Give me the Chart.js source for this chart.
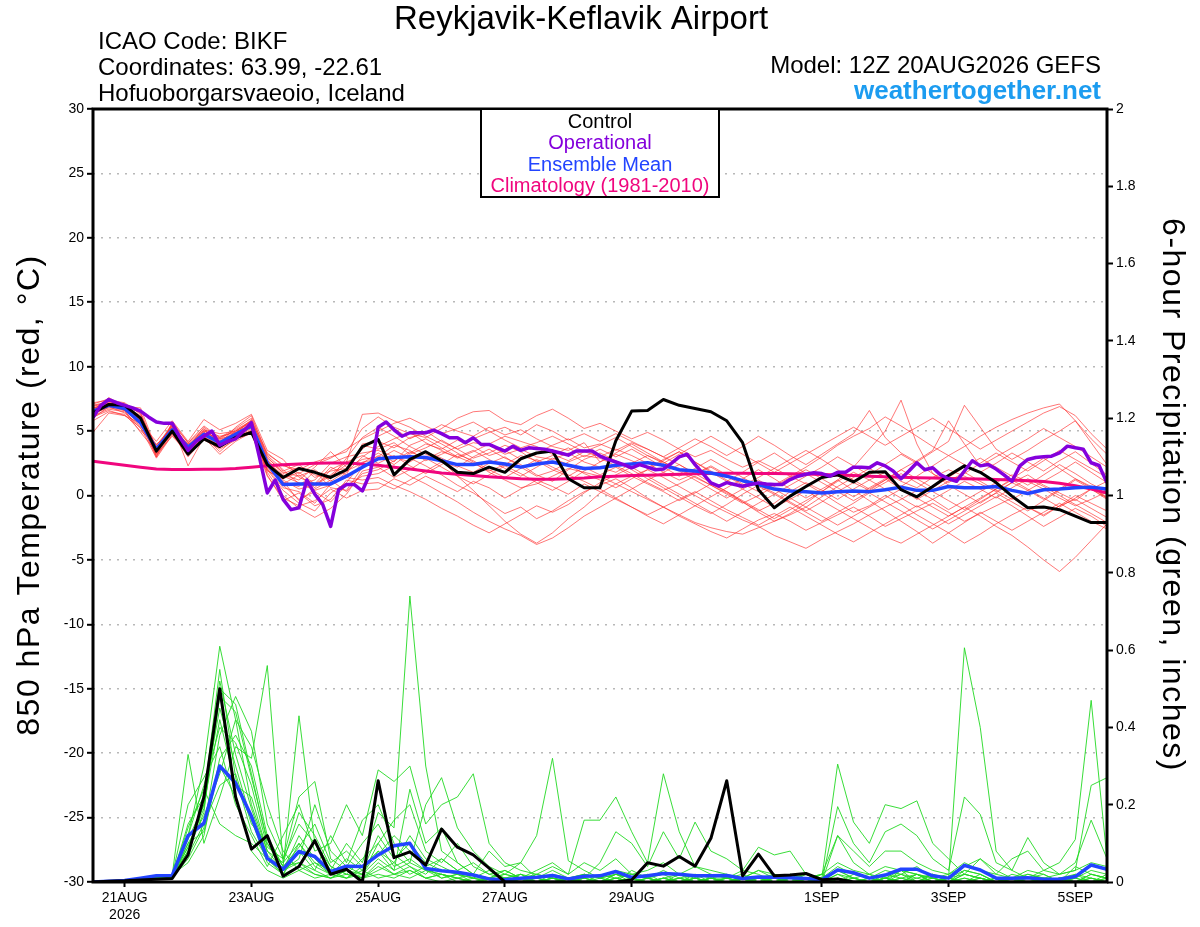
<!DOCTYPE html>
<html>
<head>
<meta charset="utf-8">
<title>Reykjavik-Keflavik Airport GEFS</title>
<script src="https://cdn.jsdelivr.net/npm/chart.js@4.4.1/dist/chart.umd.min.js"></script>
<style>
  html, body { margin: 0; padding: 0; background: #fff; }
  #wrap { width: 1200px; height: 927px; }
</style>
</head>
<body>
<div id="wrap"><canvas id="meteogram" width="1200" height="927"></canvas></div>
<script>
// 6-hourly steps, step 0 = 12Z 20AUG2026, step 64 = 12Z 05SEP2026
const tickSteps = [2, 10, 18, 26, 34, 46, 54, 62];
const tickLabels = [['21AUG', '2026'], '23AUG', '25AUG', '27AUG', '29AUG', '1SEP', '3SEP', '5SEP'];

// 850 hPa temperature (C), 6-hourly
const controlTemp = [6.4,7.07,7.0,6.0,3.44,5.0,3.2,4.4,3.8,4.5,4.9,
  2.4,1.4,2.1,1.8,1.4,2.0,3.8,
  4.35,1.6,2.8,3.4,2.7,1.8,1.7,2.2,1.8,2.85,3.3,3.45,1.3,0.6,
  0.6,4.25,6.55,6.6,7.45,7.0,6.75,6.5,5.8,4.1,0.45,-0.95,-0.05,0.7,1.4,1.6,1.05,1.8,1.85,0.45,-0.1,0.7,1.55,2.3,1.8,1.0,-0.05,-0.95,-0.9,-1.1,-1.6,-2.1,-2.1];
// operational run is 3-hourly (half steps)
const operTemp3h = [6.05,7.0,7.45,7.2,7.0,6.8,6.55,6.1,5.7,5.6,
  5.6,4.5,3.5,4.2,4.6,5.0,3.9,4.2,4.4,5.0,
  5.65,3.0,0.2,1.2,-0.3,-1.1,-0.95,1.2,0.1,-0.7,
  -2.4,0.45,0.85,0.85,0.35,1.76,5.3,5.7,5.1,4.6,
  4.87,4.87,4.87,5.07,4.8,4.48,4.48,4.1,4.48,3.96,
  3.96,3.7,3.45,3.83,3.5,3.7,3.65,3.6,3.45,3.3,
  3.13,3.45,3.45,3.45,3.06,2.8,2.6,2.4,2.15,2.4,
  2.2,2.0,2.05,2.5,3.0,3.2,2.4,1.7,0.98,0.72,
  1.0,0.85,0.72,0.85,0.98,0.9,0.85,0.85,1.24,1.5,
  1.65,1.76,1.7,1.5,1.8,1.8,2.2,2.2,2.15,2.54,
  2.3,1.9,1.3,1.9,2.54,2.0,2.15,1.6,1.3,1.1,
  1.9,2.7,2.3,2.4,2.05,1.6,1.1,2.3,2.8,2.95,
  3.0,3.05,3.3,3.83,3.7,3.6,2.54,2.33,0.98];
const meanTemp = [6.55,7.0,6.75,5.65,3.6,5.1,3.75,4.75,4.1,4.75,5.4,
  2.5,0.85,0.9,0.9,0.9,1.5,2.2,
  2.85,2.95,3.0,2.95,2.7,2.4,2.4,2.6,2.45,2.2,2.45,2.6,2.35,2.1,
  2.15,2.35,2.45,2.55,2.35,2.0,1.9,1.75,1.5,1.15,0.85,0.5,0.35,0.3,0.2,0.3,0.35,0.3,0.45,0.65,0.4,0.4,0.7,0.6,0.6,0.7,0.4,0.15,0.45,0.5,0.6,0.65,0.5];
const climTemp = [2.65,2.5,2.35,2.2,2.05,2.02,2.02,2.03,2.04,2.1,
  2.2,2.3,2.38,2.45,2.5,2.53,2.52,2.45,2.35,2.2,
  2.05,1.9,1.75,1.65,1.55,1.45,1.38,1.3,1.26,1.26,
  1.3,1.35,1.45,1.5,1.55,1.58,1.62,1.65,1.68,1.7,
  1.72,1.72,1.71,1.7,1.68,1.66,1.63,1.6,1.55,1.5,
  1.46,1.42,1.38,1.35,1.32,1.3,1.28,1.25,1.2,1.15,
  1.08,0.95,0.75,0.5,0.2];

const tempMembers = [
  [6.8,7.2,6.9,6.2,3.3,5.4,3.9,5.0,4.3,4.9,5.6, 2.8,1.2,0.5,0.8,1.5,2.4,3.6, 4.6,5.2,4.4,5.0,4.2,3.6,4.1,3.9,3.2,3.6,3.0,2.8,3.3,2.6,
   2.2,1.8,2.5,3.1,2.6,2.0,1.4,0.8,0.2,-0.5,-1.2,-0.6,0.3,1.0,0.4,-0.3,0.5,1.2,1.8,1.1,0.6,1.4,2.0,1.5,0.9,0.3,1.0,1.6,0.8,0.2,-0.4,0.5,1.1],
  [6.2,6.7,6.5,5.2,3.8,5.0,3.4,4.6,3.9,4.5,5.2, 2.0,0.4,-0.6,-1.2,0.2,1.0,2.6, 2.8,3.5,2.9,2.3,1.6,0.8,0.2,-0.6,-1.4,-0.9,-1.8,-1.2,-0.4,0.3,
   0.8,1.3,0.6,-0.2,-0.9,-1.6,-2.2,-2.8,-3.3,-2.6,-1.9,-1.4,-2.0,-2.7,-2.1,-1.5,-0.9,-1.6,-2.4,-1.8,-1.2,-0.6,-1.3,-2.0,-1.4,-0.8,-0.2,-0.9,-1.5,-0.8,-0.3,-1.0,-1.7],
  [7.1,7.5,7.0,6.0,3.0,5.7,4.1,5.4,4.5,5.2,6.0, 3.3,2.3,2.0,2.6,3.0,3.4,5.2, 6.1,5.3,4.8,4.5,5.2,6.0,6.5,6.6,5.8,5.5,6.2,6.7,6.0,5.2,
   5.6,5.0,4.4,4.9,4.3,3.6,3.0,3.5,2.8,2.2,2.7,2.1,1.5,2.2,3.0,3.9,4.6,5.2,6.1,5.4,4.6,3.8,3.1,2.4,1.8,2.5,3.3,2.6,1.9,2.7,3.4,2.5,1.6],
  [5.8,6.5,6.3,5.0,4.0,4.8,3.0,4.4,3.6,4.3,5.1, 1.8,0.0,-1.0,-1.7,-1.0,0.1,1.9, 2.2,1.4,2.0,2.8,3.4,3.0,2.5,1.9,2.4,3.1,2.7,2.0,1.5,2.2,
   1.6,2.2,1.5,0.9,0.3,-0.4,0.2,0.9,0.3,-0.5,-1.3,-2.0,-1.4,-0.6,0.3,1.2,2.2,3.6,5.0,7.4,4.0,1.7,0.8,0.1,-0.6,0.2,1.0,0.4,-0.3,0.5,1.3,0.7,-0.2],
  [6.5,7.0,6.8,6.5,3.5,5.2,3.8,4.8,4.2,4.8,5.5, 2.5,1.5,1.0,0.4,0.8,1.8,3.0, 3.8,4.4,4.9,4.1,3.5,2.9,3.4,4.0,4.6,4.2,3.8,3.2,2.7,3.4,
   3.0,3.6,3.1,2.5,1.8,1.2,1.7,2.3,1.6,0.9,0.3,0.8,1.5,0.9,0.2,-0.6,-1.3,-0.8,0.0,-0.7,-1.5,-2.2,-2.9,-3.7,-3.0,-2.2,-1.5,-0.9,-1.6,-0.8,0.0,-0.6,-1.2],
  [6.9,7.3,7.1,5.8,3.1,4.9,3.6,5.1,4.8,5.0,5.8, 3.0,1.7,2.2,1.6,1.3,2.9,4.5, 5.3,4.6,3.8,3.2,2.7,1.5,0.4,-0.8,-2.0,-3.0,-3.7,-2.9,-1.8,-0.9,
   0.2,0.9,1.5,2.0,1.4,0.7,0.0,-0.7,-1.3,-1.9,-2.4,-3.1,-3.6,-4.1,-3.4,-2.8,-2.2,-1.5,-0.9,-0.3,0.4,-0.3,-1.1,-0.4,0.3,1.0,1.6,1.1,0.5,-0.2,-0.8,-0.3,0.3],
  [6.3,6.9,6.4,5.4,3.9,5.3,4.0,4.3,3.7,4.6,5.3, 1.6,-0.4,0.2,-0.8,-0.3,1.2,0.9, 1.0,0.5,1.2,1.9,2.6,2.2,3.0,3.6,2.9,2.4,1.6,1.1,2.0,2.8,
   3.3,2.7,2.0,1.3,0.6,-0.1,-0.8,-1.4,-0.7,0.1,0.8,0.2,-0.5,-1.2,-0.5,0.3,1.0,0.4,1.2,2.0,1.3,0.6,1.4,2.2,2.9,2.2,1.5,0.8,1.6,2.4,1.7,0.9,0.3],
  [6.6,7.6,6.9,6.8,3.6,5.5,2.3,4.5,3.2,4.2,4.9, 2.2,1.0,0.7,1.9,0.6,0.4,2.2, 3.1,2.4,3.3,4.0,3.6,4.3,3.8,3.1,3.5,2.8,3.3,3.9,4.4,3.7,
   4.0,3.5,4.1,3.6,3.0,2.4,1.7,2.2,1.5,0.8,1.4,2.1,2.8,3.5,2.8,2.0,1.2,0.5,1.2,2.0,2.7,3.5,5.8,4.0,2.3,3.0,3.7,4.4,5.2,4.5,3.8,3.0,2.2],
  [4.9,6.4,6.2,5.6,4.2,5.8,4.2,5.9,5.1,5.6,6.3, 3.5,2.8,1.4,0.9,2.2,1.6,4.0, 4.2,3.7,4.5,4.8,5.5,5.0,4.6,5.3,4.7,5.1,4.4,3.8,3.5,4.1,
   2.6,3.2,2.7,2.1,2.8,3.4,2.6,1.9,1.2,0.5,-0.2,-0.9,-0.3,0.4,-0.4,-1.1,-1.8,-2.5,-3.2,-3.7,-3.0,-2.3,-1.6,-0.9,-1.6,-2.4,-3.1,-4.0,-5.0,-5.9,-4.8,-3.5,-2.2],
  [7.0,7.1,6.6,5.5,3.2,4.6,3.3,4.9,4.0,5.0,5.7, 2.4,0.8,-0.3,0.3,-0.5,0.8,1.5, 1.7,2.3,1.5,0.9,0.2,-0.5,-1.3,-2.0,-2.6,-3.1,-3.8,-3.3,-2.5,-1.6,
   -0.9,-0.2,0.5,1.2,1.8,2.4,1.7,1.0,0.3,-0.4,-1.1,-1.8,-1.1,-0.4,0.3,1.1,1.8,1.2,0.5,-0.2,-0.9,-0.3,0.4,1.1,0.5,-0.2,0.6,1.3,0.7,0.0,-0.7,-1.4,-2.1],
  [6.4,6.8,6.6,4.9,3.4,5.1,3.7,4.7,4.4,4.7,5.4, 1.9,1.3,1.8,0.9,1.6,2.6,6.3, 6.4,5.8,5.3,4.6,4.0,3.3,2.6,1.8,1.2,0.6,0.9,1.5,2.1,1.8,
   1.5,0.9,0.3,-0.3,-0.9,-1.5,-2.1,-2.5,-2.8,-3.0,-2.5,-2.0,-1.5,-0.9,-0.1,0.7,1.4,2.1,1.4,0.7,1.5,2.3,3.1,3.8,4.6,5.3,5.9,6.4,6.8,7.1,5.8,4.4,3.2],
  [6.7,7.4,7.2,6.3,3.7,5.6,4.1,5.2,4.0,5.3,6.2, 3.1,2.0,0.9,1.2,2.5,3.0,3.3, 3.5,3.0,2.6,3.4,2.9,2.3,1.8,2.5,3.0,2.2,1.5,1.9,2.6,3.1,
   2.9,2.3,1.7,1.0,0.4,0.9,1.5,0.8,0.1,-0.6,0.0,0.7,1.4,2.0,1.3,0.6,-0.1,0.6,1.3,0.5,-0.3,0.4,1.1,1.8,1.1,0.4,-0.3,0.4,1.1,1.8,2.6,1.8,1.0],
  [6.1,6.6,6.2,5.3,2.9,4.7,3.5,4.4,3.8,4.4,4.8, 1.5,-0.2,-0.8,-0.4,0.5,-0.2,0.4, 0.5,1.3,0.8,1.5,0.9,0.3,1.1,0.6,-0.2,0.5,1.2,0.7,0.1,0.9,
   0.3,-0.3,-0.9,-1.5,-0.9,-0.3,0.3,-0.4,-1.1,-1.7,-2.3,-1.6,-0.9,-1.6,-2.3,-3.0,-3.6,-2.9,-2.2,-1.5,-0.8,-1.5,-2.2,-1.5,-0.8,-0.1,-0.8,-1.6,-2.4,-1.7,-1.0,-1.6,-2.4],
  [6.8,7.0,6.7,5.9,3.8,5.0,3.9,5.0,4.6,4.9,5.5, 2.6,1.6,1.2,2.2,3.4,2.2,2.8, 3.0,3.9,3.5,2.7,3.2,3.8,4.4,4.9,5.3,4.7,5.5,5.0,4.3,4.8,
   4.2,4.8,4.2,3.6,3.0,3.7,4.4,3.8,3.1,3.8,4.6,3.9,3.1,2.4,3.2,4.0,4.8,6.6,4.5,3.3,2.6,3.4,4.2,7.0,5.3,3.6,2.8,3.5,4.3,5.0,5.8,4.1,2.4],
  [6.5,7.2,6.9,6.1,3.4,5.3,3.1,4.6,3.4,4.5,5.0, 2.1,0.6,0.3,-0.6,0.9,1.4,1.2, 1.4,0.8,0.3,-0.3,-1.0,-1.6,-2.3,-2.9,-2.2,-1.5,-0.8,-1.3,-0.7,0.2,
   1.0,1.6,2.2,1.5,0.8,0.1,-0.6,-1.3,-2.0,-1.3,-0.6,0.1,-0.6,-1.3,-2.0,-1.3,-0.6,0.2,-0.5,-1.2,-1.9,-2.6,-1.9,-1.2,-0.5,0.2,-0.5,-1.2,-0.4,0.4,1.2,0.5,-0.2],
  [7.2,7.4,6.8,5.7,3.6,5.5,3.8,4.9,4.1,4.8,5.9, 2.9,1.9,2.4,1.4,1.9,2.1,3.9, 3.6,4.1,3.2,3.7,4.3,3.6,2.9,3.3,3.9,3.4,2.6,3.1,3.7,3.0,
   3.6,3.0,3.6,2.9,2.2,1.5,2.1,2.8,2.1,1.4,0.7,0.1,0.8,1.5,2.2,3.0,2.3,1.6,2.4,3.2,2.5,1.7,1.0,1.7,2.5,3.3,2.6,1.9,2.7,3.5,2.8,2.1,1.4],
  [6.0,6.9,6.7,5.9,3.5,5.2,3.6,4.8,4.5,5.0,5.7, 2.7,1.8,1.5,2.0,1.1,1.9,2.5, 3.3,2.6,3.9,4.4,3.7,3.0,3.5,2.8,2.1,1.5,2.2,2.9,2.4,1.7,
   1.2,0.6,1.3,2.0,2.7,3.4,2.6,1.8,1.1,1.8,2.6,3.3,2.5,1.7,1.0,0.3,-0.4,0.3,1.0,1.7,1.0,0.3,-0.4,-1.1,-0.3,0.5,1.3,2.1,2.9,2.1,1.3,0.6,-0.1],
  [6.6,7.1,7.0,6.4,3.2,5.0,4.0,5.1,4.2,4.7,5.3, 2.3,0.9,1.6,0.6,2.0,2.6,3.1, 2.5,3.1,2.3,1.7,2.4,3.2,2.7,2.0,1.4,2.1,2.8,2.2,1.6,1.1,
   0.5,-0.2,-0.9,-1.6,-2.2,-1.5,-0.8,-0.1,0.6,1.3,2.0,1.3,0.5,-0.2,0.5,1.2,0.4,-0.4,-1.2,-2.0,-2.8,-3.7,-2.9,-2.1,-1.3,-2.0,-2.7,-2.0,-1.3,-0.6,-1.3,-2.0,-2.6],
  [6.3,7.0,6.6,5.6,3.0,4.8,3.2,4.5,3.9,4.6,5.0, 2.0,1.1,-0.4,0.5,1.2,0.3,1.7, 2.0,2.7,3.4,2.9,2.2,1.5,0.9,1.6,2.3,1.7,1.0,0.4,1.1,1.9,
   2.6,3.3,4.0,3.3,2.6,1.9,1.2,0.5,-0.2,0.5,1.2,0.5,-0.2,-0.9,-1.6,-2.3,-1.6,-0.9,-0.2,0.5,-0.2,-0.9,-1.6,-0.9,-0.2,0.5,1.2,0.5,-0.2,-0.9,-0.2,0.5,-0.3],
  [7.0,7.3,6.9,6.0,3.9,5.4,3.7,5.3,4.4,5.1,5.8, 3.2,2.4,1.7,2.4,2.9,3.6,4.4, 5.0,5.6,6.0,5.4,4.8,5.2,5.7,5.0,4.3,3.7,4.1,4.6,4.0,3.4,
   3.9,4.5,3.8,3.1,2.5,3.2,3.9,4.6,3.9,3.2,2.5,1.8,2.5,3.2,3.9,4.6,5.3,4.6,3.9,4.6,5.3,6.0,5.2,4.4,3.6,4.3,5.0,5.7,6.4,6.9,6.2,4.8,3.6]
];

// 6-hour precipitation (inches)
const controlPrecip = [0,0.002,0.003,0.005,0.007,0.009,0.07,0.22,0.5,0.22,
  0.085,0.12,0.015,0.04,0.107,0.02,0.033,0.0,0.262,0.063,
  0.078,0.044,0.137,0.09,0.07,0.036,0,0,0,0,
  0,0,0,0,0.005,0.05,0.041,0.066,0.041,0.113,
  0.262,0.016,0.072,0.016,0.018,0.022,0.006,0.008,0,0,
  0,0,0,0,0,0,0,0,0,0,
  0,0,0,0,0];
const meanPrecip = [0,0.002,0.004,0.01,0.016,0.017,0.12,0.152,0.30,0.256,
  0.17,0.061,0.033,0.079,0.066,0.027,0.041,0.04,0.07,0.094,
  0.10,0.035,0.029,0.025,0.018,0.008,0.006,0.01,0.012,0.017,
  0.008,0.015,0.016,0.027,0.012,0.016,0.022,0.02,0.016,0.016,
  0.017,0.009,0.013,0.012,0.011,0.009,0.006,0.031,0.024,0.01,
  0.018,0.033,0.033,0.016,0.01,0.043,0.031,0.01,0.01,0.011,
  0.007,0.007,0.014,0.044,0.033];

const precipMembers = [
  [0,0,0.002,0.005,0.01,0.015,0.12,0.3,0.61,0.42, 0.2,0.08,0.03,0.05,0.02,0.01,0.03,0.01,0.05,0.02,
   0.04,0.01,0.02,0.01,0,0.01,0.03,0.01,0,0.02, 0.01,0,0.02,0.01,0,0.01,0.03,0.01,0,0.01,
   0.02,0,0.01,0,0.01,0,0.01,0.03,0.01,0, 0.01,0.02,0,0.01,0,0.02,0.01,0,0.01,0, 0.01,0,0.02,0.01,0],
  [0,0,0.003,0.006,0.012,0.018,0.33,0.1,0.22,0.35, 0.32,0.56,0.05,0.1,0.04,0.02,0.06,0.03,0.12,0.06,
   0.1,0.05,0.03,0.02,0.01,0.03,0.01,0,0.01,0, 0,0.02,0.01,0,0.01,0.02,0,0.01,0,0.01,
   0,0.01,0.03,0.01,0,0.01,0,0.12,0.05,0.02, 0,0.01,0,0.02,0,0.01,0,0.01,0,0, 0,0.01,0,0.02,0.01],
  [0,0,0.001,0.004,0.008,0.014,0.15,0.22,0.45,0.3, 0.16,0.05,0.02,0.1,0.05,0.03,0.1,0.05,0.18,0.14,
   0.74,0.3,0.08,0.05,0.02,0.01,0.02,0.01,0,0.01, 0,0,0.01,0.02,0.01,0,0.01,0,0.02,0.01,
   0,0,0.01,0,0.02,0.01,0,0.02,0.01,0, 0.01,0,0.02,0.01,0,0.03,0.02,0,0.01,0, 0,0.01,0,0,0.01],
  [0,0,0.002,0.006,0.011,0.016,0.08,0.18,0.5,0.46, 0.28,0.1,0.04,0.43,0.1,0.04,0.02,0.01,0.03,0.05,
   0.02,0.04,0.01,0.02,0,0.01,0,0.02,0.01,0, 0.01,0.02,0,0.01,0,0.01,0,0.02,0.01,0,
   0.01,0,0,0.01,0,0.02,0.01,0,0.02,0.01, 0,0.03,0.02,0,0.01,0.606,0.4,0.08,0.03,0.01, 0,0.01,0.02,0,0.01],
  [0,0,0.002,0.004,0.009,0.013,0.06,0.14,0.38,0.48, 0.39,0.15,0.06,0.22,0.26,0.06,0.03,0.02,0.1,0.04,
   0.06,0.03,0.01,0.02,0.01,0,0.01,0,0,0.01, 0.01,0,0,0.01,0.02,0.01,0,0,0.01,0,
   0,0.01,0,0.02,0.01,0,0,0.01,0,0, 0.02,0.01,0,0,0.01,0.02,0.01,0,0,0.01, 0.03,0.05,0.11,0.47,0.06],
  [0,0,0.003,0.005,0.01,0.017,0.2,0.27,0.35,0.2, 0.12,0.04,0.12,0.2,0.08,0.1,0.2,0.12,0.29,0.26,
   0.3,0.15,0.2,0.22,0.28,0.1,0.05,0.03,0.02,0.01, 0,0.01,0,0.02,0.01,0,0.01,0.02,0,0.01,
   0.01,0,0.01,0,0,0.01,0.02,0,0.01,0, 0.01,0,0.01,0.02,0,0.01,0,0.01,0,0.02, 0.01,0,0,0.01,0],
  [0,0,0.001,0.003,0.007,0.012,0.1,0.17,0.28,0.42, 0.35,0.2,0.08,0.03,0.05,0.02,0.01,0.04,0.08,0.03,
   0.24,0.1,0.14,0.05,0.02,0.08,0.04,0.05,0.12,0.32, 0.055,0.03,0.01,0.02,0.01,0,0.01,0,0.01,0,
   0,0.01,0,0.01,0.02,0,0.01,0,0,0.01, 0,0.02,0.01,0,0.01,0,0.02,0,0.01,0, 0,0.01,0,0.02,0.01],
  [0,0,0.002,0.005,0.01,0.014,0.14,0.24,0.15,0.12, 0.1,0.06,0.02,0.08,0.03,0.12,0.05,0.16,0.2,0.1,
   0.05,0.2,0.27,0.14,0.08,0.04,0.02,0.01,0.03,0.05, 0.02,0.16,0.16,0.22,0.13,0.05,0.28,0.13,0.04,0.02,
   0.01,0,0.01,0.02,0,0.01,0,0.02,0,0.01, 0,0.01,0.02,0,0.01,0,0,0.01,0,0, 0.01,0,0.01,0,0],
  [0,0,0.002,0.004,0.009,0.015,0.09,0.2,0.42,0.25, 0.22,0.08,0.05,0.18,0.12,0.04,0.02,0.06,0.1,0.16,
   0.2,0.08,0.05,0.1,0.04,0.02,0.01,0.02,0,0.01, 0,0.01,0.05,0.13,0.1,0.04,0.13,0.06,0.155,0.08,
   0.06,0.03,0.09,0.07,0.08,0.02,0.01,0,0.01,0, 0.01,0,0.02,0,0.01,0,0.01,0,0,0.01, 0,0,0.01,0,0.02],
  [0,0,0.003,0.007,0.013,0.019,0.05,0.12,0.32,0.38, 0.3,0.12,0.04,0.05,0.03,0.01,0.02,0.01,0.04,0.02,
   0.03,0.01,0.02,0,0.01,0.01,0,0.01,0,0, 0.01,0,0,0.01,0,0,0.01,0,0,0.01,
   0,0,0.01,0,0,0,0.01,0.305,0.155,0.1, 0.2,0.19,0.21,0.1,0.06,0.02,0.01,0,0.01,0, 0,0.01,0,0.01,0],
  [0,0,0.002,0.005,0.01,0.016,0.11,0.2,0.52,0.33, 0.19,0.07,0.03,0.12,0.06,0.02,0.04,0.02,0.06,0.03,
   0.05,0.03,0.02,0.01,0,0.01,0,0,0.01,0, 0,0.01,0,0,0.01,0,0,0.01,0,0,
   0.01,0,0,0,0.01,0,0,0.195,0.1,0.05, 0.13,0.15,0.12,0.06,0.03,0.22,0.175,0.05,0.03,0.115, 0.05,0.02,0.03,0.25,0.27],
  [0,0,0.001,0.003,0.008,0.013,0.07,0.15,0.25,0.28, 0.15,0.1,0.03,0.06,0.2,0.08,0.04,0.1,0.15,0.07,
   0.04,0.02,0.06,0.03,0.01,0,0.01,0,0.02,0.01, 0,0.01,0,0.02,0,0.01,0,0,0.01,0,
   0,0.01,0,0,0.01,0,0.02,0.12,0.08,0.04, 0.08,0.08,0.05,0.03,0.02,0.05,0.03,0.02,0.06,0.08, 0.03,0.02,0.05,0.16,0.06],
  [0,0,0.002,0.004,0.01,0.015,0.08,0.22,0.55,0.27, 0.13,0.06,0.02,0.04,0.02,0.01,0.03,0.01,0.02,0.01,
   0.03,0.01,0,0.01,0,0,0.01,0,0,0, 0.01,0,0,0,0.01,0,0,0,0,0.01,
   0,0,0,0.01,0,0,0,0.01,0,0, 0.01,0,0,0.01,0,0,0.01,0,0,0, 0,0.01,0,0,0],
  [0,0,0.002,0.006,0.012,0.017,0.12,0.25,0.4,0.36, 0.25,0.09,0.06,0.15,0.1,0.03,0.01,0.02,0.08,0.05,
   0.12,0.06,0.04,0.02,0.02,0.01,0.02,0.05,0.01,0.03, 0.01,0.02,0.01,0.03,0.02,0.01,0,0.01,0.02,0,
   0.01,0.02,0,0,0.01,0,0.01,0.04,0.02,0.01, 0.03,0.02,0.04,0.01,0,0.02,0.06,0.02,0.01,0.03, 0.02,0,0.04,0.02,0.01],
  [0,0,0.001,0.004,0.009,0.014,0.1,0.13,0.3,0.22, 0.08,0.03,0.01,0.03,0.01,0.02,0.01,0.03,0.01,0.02,
   0.01,0.03,0.02,0.01,0.02,0,0.01,0.02,0,0.01, 0,0.02,0.01,0,0.03,0.01,0.02,0,0.01,0.02,
   0.01,0.03,0.02,0,0.01,0.02,0,0.03,0.01,0.02, 0.01,0.03,0,0.02,0.01,0.03,0.02,0,0.02,0.01, 0.02,0,0.01,0.03,0.02],
  [0,0,0.003,0.006,0.011,0.016,0.09,0.19,0.48,0.44, 0.27,0.11,0.04,0.09,0.15,0.05,0.08,0.04,0.07,0.12,
   0.08,0.04,0.06,0.03,0.05,0.02,0.03,0.01,0.02,0.04, 0.02,0.05,0.03,0.06,0.02,0.03,0.05,0.02,0.04,0.03,
   0.02,0.01,0.03,0.02,0.01,0.01,0.02,0.05,0.03,0.02, 0.04,0.03,0.02,0.01,0.02,0.04,0.06,0.03,0.01,0.02, 0.01,0.02,0.03,0.05,0.04]
];

const PURPLE = '#8400dc';
const BLUE = '#2244ff';
const PINK = '#f0067e';
const RED = 'rgba(255, 45, 45, 0.72)';
const GREEN = '#22d922';
const FONT = "'Liberation Sans', Arial, Helvetica, sans-serif";

function pts(values, step) {
    return values.map((v, i) => ({ x: i * step, y: v }));
}

function line(label, data, color, width, axis, order) {
    return {
        label: label,
        data: data,
        borderColor: color,
        borderWidth: width,
        yAxisID: axis,
        order: order,
        pointRadius: 0,
        tension: 0,
        fill: false,
        borderJoinStyle: 'round',
    };
}

const datasets = [
    line('Operational', pts(operTemp3h, 0.5), PURPLE, 3.5, 'y', 1),
    line('Control', pts(controlTemp, 1), '#000', 3, 'y', 2),
    line('Ensemble Mean', pts(meanTemp, 1), BLUE, 3.5, 'y', 3),
    line('Climatology (1981-2010)', pts(climTemp, 1), PINK, 3, 'y', 4),
    line('Ensemble Mean precip', pts(meanPrecip, 1), BLUE, 3.5, 'y2', 6),
    line('Control precip', pts(controlPrecip, 1), '#000', 3, 'y2', 5),
];
tempMembers.forEach((m, k) => datasets.push(line('T member ' + (k + 1), pts(m, 1), RED, 0.9, 'y', 20)));
precipMembers.forEach((m, k) => datasets.push(line('P member ' + (k + 1), pts(m, 1), GREEN, 0.9, 'y2', 21)));

// header texts, legend box, axis titles and frame
const decor = {
    id: 'decor',
    beforeDraw(chart) {
        const ctx = chart.ctx;
        ctx.save();
        ctx.fillStyle = '#fff';
        ctx.fillRect(0, 0, chart.width, chart.height);
        ctx.restore();
    },
    afterDraw(chart) {
        const ctx = chart.ctx;
        const a = chart.chartArea;
        ctx.save();

        // frame
        ctx.strokeStyle = '#000';
        ctx.lineWidth = 3;
        ctx.strokeRect(a.left, a.top, a.right - a.left, a.bottom - a.top);

        // legend box
        ctx.fillStyle = '#fff';
        ctx.fillRect(481, a.top, 238, 88);
        ctx.lineWidth = 2;
        ctx.strokeRect(481, a.top, 238, 88);
        ctx.textAlign = 'center';
        ctx.textBaseline = 'alphabetic';
        ctx.font = '20px ' + FONT;
        const legend = [['Control', '#000'], ['Operational', PURPLE], ['Ensemble Mean', BLUE], ['Climatology (1981-2010)', PINK]];
        legend.forEach((l, k) => {
            ctx.fillStyle = l[1];
            ctx.fillText(l[0], 600, 128 + k * 21.3);
        });

        // title block
        ctx.fillStyle = '#000';
        ctx.font = '33px ' + FONT;
        ctx.fillText('Reykjavik-Keflavik Airport', 581, 29);
        ctx.textAlign = 'left';
        ctx.font = '24px ' + FONT;
        ctx.fillText('ICAO Code: BIKF', 98, 49);
        ctx.fillText('Coordinates: 63.99, -22.61', 98, 75);
        ctx.fillText('Hofuoborgarsvaeoio, Iceland', 98, 101);
        ctx.textAlign = 'right';
        ctx.fillText('Model: 12Z 20AUG2026 GEFS', 1101, 73);
        ctx.fillStyle = '#1c9cf0';
        ctx.font = 'bold 26px ' + FONT;
        ctx.fillText('weathertogether.net', 1101, 99);

        // axis titles
        ctx.fillStyle = '#000';
        ctx.font = '32px ' + FONT;
        ctx.textAlign = 'center';
        ctx.textBaseline = 'middle';
        ctx.letterSpacing = '1.5px';
        ctx.save();
        ctx.translate(30, 495);
        ctx.rotate(-Math.PI / 2);
        ctx.fillText('850 hPa Temperature (red, \u00B0C)', 0, 0);
        ctx.restore();
        ctx.save();
        ctx.translate(1172, 495);
        ctx.rotate(Math.PI / 2);
        ctx.fillText('6-hour Precipitation (green, inches)', 0, 0);
        ctx.restore();

        ctx.restore();
    }
};

const tickFont = { family: FONT, size: 14 };

new Chart(document.getElementById('meteogram').getContext('2d'), {
    type: 'line',
    data: { datasets: datasets },
    options: {
        responsive: false,
        animation: false,
        events: [],
        layout: { padding: { top: 109, left: 0, right: 0, bottom: 0 } },
        plugins: { legend: { display: false }, tooltip: { enabled: false } },
        scales: {
            x: {
                type: 'linear',
                min: 0,
                max: 64,
                afterBuildTicks: s => { s.ticks = tickSteps.map(v => ({ value: v })); },
                afterFit: s => { s.height = 45; },
                ticks: {
                    autoSkip: false,
                    maxRotation: 0,
                    color: '#000',
                    font: tickFont,
                    padding: 3,
                    callback: (v, i) => tickLabels[i],
                },
                grid: { drawOnChartArea: false, tickLength: 5, tickColor: '#000', tickWidth: 2 },
                border: { display: false },
            },
            y: {
                position: 'left',
                min: -30,
                max: 30,
                afterFit: s => { s.width = 93; },
                ticks: { stepSize: 5, color: '#000', font: tickFont, padding: 3 },
                grid: {
                    color: c => (c.tick && Math.abs(c.tick.value) === 30) ? 'rgba(0,0,0,0)' : '#b8b8b8',
                    lineWidth: 1.6,
                    tickLength: 6,
                    tickColor: '#000',
                    tickWidth: 2,
                    tickBorderDash: [],
                },
                border: { display: false, dash: [2, 6] },
            },
            y2: {
                position: 'right',
                min: 0,
                max: 2,
                afterFit: s => { s.width = 93; },
                ticks: {
                    stepSize: 0.2,
                    color: '#000',
                    font: tickFont,
                    padding: 3,
                    callback: v => String(+v.toFixed(1)),
                },
                grid: { drawOnChartArea: false, tickLength: 6, tickColor: '#000', tickWidth: 2 },
                border: { display: false },
            },
        },
    },
    plugins: [decor],
});
</script>
</body>
</html>
